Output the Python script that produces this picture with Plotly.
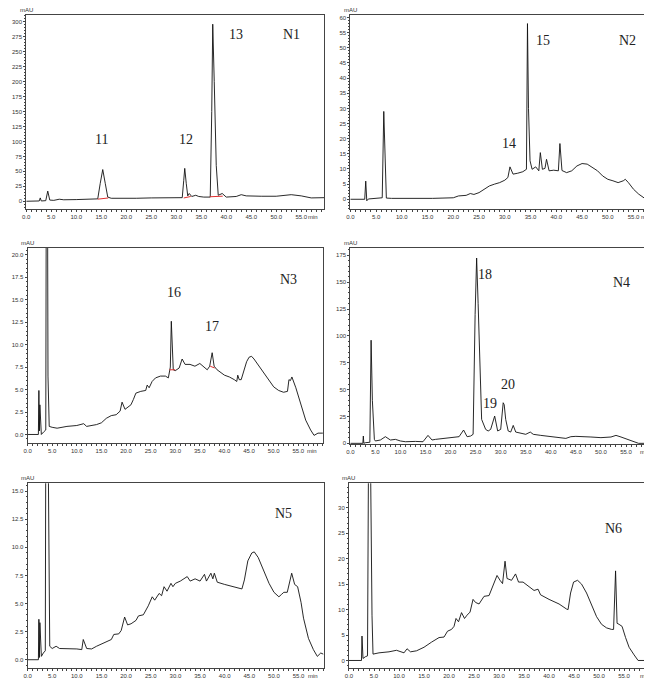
import plotly.graph_objects as go

# ---- N1 ----
n1_time = [0, 2.6, 2.8, 3.0, 3.9, 4.3, 4.7, 5.5, 6.6, 7.5, 10, 12, 14.0, 14.3, 14.8, 15.3, 15.8, 16.3, 17,
           20, 22, 25, 28, 30, 31.2, 31.5, 31.7, 32.0, 32.3, 32.6, 33.1, 33.9, 34.5, 35.5, 36.8, 37.1, 37.3,
           37.6, 38.0, 38.4, 39.2, 40, 42, 43, 44, 47, 50, 53, 55, 57, 59.6]
n1_abs = [0, 0.5, 5.6, 0.5, 1, 17, 2, 1.5, 3.4, 2.5, 2.8, 3.2, 3.4, 4, 30, 53, 30, 7, 5,
          4.5, 5, 5.6, 6, 6, 6, 35, 55, 30, 9, 13, 8, 10, 8, 7, 7, 150, 296,
          200, 60, 10, 13, 7, 8, 11, 9, 8.4, 8.4, 11, 9, 5.6, 6]
n1_base_time = [14.3, 16.4, None, 31.5, 32.9, None, 36.7, 39.3]
n1_base_abs = [3.5, 5.5, None, 5.5, 8, None, 7.5, 8.5]

# ---- N2 ----
n2_time = [0, 2.8, 3.0, 3.2, 3.5, 6.2, 6.5, 6.8, 7.0, 8, 12, 16, 18, 20, 21, 22.5, 23.3, 24, 25, 26, 27, 28, 29,
           30, 30.6, 31.0, 31.6, 32.5, 33.5, 34.2, 34.4, 34.6, 34.9, 35.3, 36, 36.6, 36.9, 37.3, 37.8, 38.1,
           38.6, 39.5, 40.4, 40.7, 41.1, 42, 43, 44, 45, 46, 47, 48, 49, 50, 51, 52, 53, 53.4, 54, 55, 56, 57,
           57.5, 58.5, 59.5]
n2_abs = [0, 0, 6, -0.5, 0.1, 0.5, 29, 5, 0.4, 0.3, 0.2, 0.3, 0.4, 0.5, 1.1, 1.3, 1.9, 1.6, 2.2, 3.3, 4.4, 5, 5.5,
          6.3, 7.2, 10.7, 8.3, 8.6, 9.1, 9.9, 58, 30, 12.7, 9.9, 10.7, 9.4, 15.4, 9.9, 10.2, 13.2,
          9.4, 9.6, 9.4, 18.4, 9.5, 8.8, 9.4, 11, 11.8, 11.6, 10.5, 9.4, 7.7, 6.6, 6.1, 5.5, 6.1, 6.6, 5.5, 3.3, 1.7, 0.3,
          -0.1, 0.6, 0.6]

# ---- N3 ----
n3_time = [0, 2.2, 2.3, 2.4, 2.5, 2.8, 3.3, 3.7, 3.85, 4.0, 4.15, 4.4, 5, 6, 7, 8, 10, 11, 11.4, 12, 13, 14, 15,
           16, 17, 18, 18.8, 19.2, 19.8, 20.3, 21, 21.5, 22, 23, 24, 24.3, 24.7, 25.3, 26, 27, 28, 28.6, 29.0,
           29.2, 29.4, 29.6, 30, 30.8, 31.4, 32, 33, 34, 35, 35.6, 36.5, 37, 37.5, 37.9, 38.5, 40, 41, 42,
           42.5, 42.7, 43, 43.4, 44, 44.5, 45, 45.5, 46, 47, 48, 49, 50, 51, 52, 52.8, 53.1, 53.4, 53.7,
           54.5, 55.5, 56.5, 57.5, 58.2, 59, 60]
n3_abs = [0, 0, 4.9, 0.4, 3.3, 0, 0.3, 0.5, 40, 40, 6.5, 0.9, 0.8, 0.7, 0.8, 0.9, 1.0, 1.1, 1.2, 0.9, 1.0, 1.1, 1.3,
          1.8, 2.1, 2.2, 2.6, 3.6, 2.8, 3.0, 3.3, 3.9, 4.6, 4.8, 4.9, 5.5, 5.2, 5.9, 6.3, 6.5, 6.5, 6.3, 7.5,
          12.6, 9, 7.2, 7.1, 7.4, 8.4, 7.8, 7.8, 7.6, 7.9, 7.6, 7.2, 7.6, 9.1, 7.6, 7.2, 6.6, 6.4, 6.1,
          5.9, 6.6, 6.1, 6.1, 7.2, 8.1, 8.6, 8.7, 8.4, 7.6, 6.8, 6.1, 5.3, 4.9, 4.7, 4.8, 6.1, 6.0, 6.4,
          5.2, 3.5, 1.6, 0.5, -0.1, 0.15, 0.15]
n3_base_time = [28.8, 30.0, None, 37.1, 38.0]
n3_base_abs = [7.2, 7.2, None, 7.6, 7.4]

# ---- N4 ----
n4_time = [0, 2.5, 2.6, 2.7, 3, 3.9, 4.15, 4.4, 4.8, 5, 6, 7.0, 8, 9, 10, 11, 13, 14.5, 15.5, 16.3, 17, 19, 21,
           21.7, 22.6, 23.3, 24, 24.5, 24.9, 25.2, 25.5, 25.8, 26.2, 27, 27.5, 28, 28.8, 29.4, 30, 30.5, 30.7,
           31, 31.5, 32, 32.5, 33, 34, 35, 35.9, 36.5, 38, 40, 42, 43, 44, 45, 48, 50, 52, 53, 54, 56, 57.5, 61]
n4_abs = [0, 0, 6.8, 0, 0.6, 1, 96, 40, 3.7, 2.2, 3.1, 6.2, 3.1, 3.7, 2.2, 1.5, 1.8, 1.5, 7.4, 3.1, 3.7, 4.6, 5.6,
          6.2, 12.4, 6.2, 6.8, 8.4, 120, 172.5, 130, 71.8, 22.3, 13, 11.5, 13, 25.4, 11.5, 13, 37.8, 36,
          22.3, 11.5, 10.5, 16.7, 10.5, 9.3, 8.4, 10.5, 8.4, 7.4, 6.2, 5.6, 4.6, 6.2, 6.5, 5.9, 5.3, 5.9, 7.4, 5.9, 2.2, 0, 0]

# ---- N5 ----
n5_time = [0, 2.2, 2.3, 2.4, 2.5, 2.8, 3.2, 3.6, 3.8, 4.0, 4.25, 4.5, 5, 5.8, 6.5, 8, 10, 11, 11.3, 12, 13, 14, 15,
           16, 17, 17.5, 18.5, 19, 19.7, 20.3, 21, 22, 22.5, 23.5, 24.5, 25.3, 25.8, 26.7, 27.2, 27.7, 28.3,
           29.1, 29.5, 30, 31, 32.4, 33, 34, 35, 35.9, 36.3, 37.2, 37.6, 37.9, 38.5, 40, 42, 43.5, 44, 44.7,
           45.5, 46, 46.8, 48, 49, 50, 51, 51.5, 52, 52.7, 53.6, 54.2, 54.8, 55.5, 56, 57, 58, 58.8, 59.5, 60]
n5_abs = [0, 0, 3.6, 0.2, 3.3, 0.3, 0.6, 0.8, 40, 40, 10.5, 1.2, 1.0, 1.2, 1.0, 1.0, 0.96, 0.9, 1.8, 1.0, 0.96, 1.2, 1.4,
          1.6, 1.8, 2.25, 2.3, 2.6, 3.8, 3.1, 3.2, 3.5, 3.9, 4.0, 4.8, 5.6, 5.3, 5.9, 5.7, 6.5, 6.1,
          6.8, 6.5, 6.8, 7.0, 7.4, 7.0, 7.2, 7.0, 7.6, 7.0, 7.7, 7.2, 7.7, 6.9, 6.7, 6.5, 6.3, 7.1, 8.8,
          9.5, 9.6, 9.1, 7.8, 6.8, 6.0, 5.6, 5.8, 6.0, 6.0, 7.7, 6.7, 6.5, 5.1, 3.7, 1.9, 0.9, 0.3, 0.6, 0.5]

# ---- N6 ----
n6_time = [0, 2.5, 2.6, 2.8, 3.3, 3.7, 3.95, 4.2, 4.6, 4.8, 6, 8, 9.5, 10.5, 11, 11.6, 12.3, 13.5, 15, 16.5, 18, 19,
           19.7, 20.5, 21, 21.4, 21.9, 22.5, 23.1, 23.6, 24.2, 24.8, 25.3, 26, 27, 28, 29.6, 30.2, 30.7, 31.2,
           31.6, 32.5, 33.3, 33.9, 34.8, 36, 37, 37.8, 38.3, 40, 42, 43.5, 43.8, 44.3, 44.9, 45.7, 46.5, 47.5,
           48.5, 49.5, 50.5, 51.5, 52.5, 52.9, 53.3, 53.6, 54, 54.6, 55.3, 56, 57, 57.8, 61.4]
n6_abs = [0, 0, 4.8, 0.4, 0.75, 0.9, 50, 50, 8.9, 1.25, 1.5, 1.7, 2.0, 1.7, 1.5, 2.3, 1.7, 1.9, 2.6, 3.6, 4.5, 4.6,
          5.75, 6.1, 6.7, 8.25, 7.6, 9.4, 8.25, 8.9, 9.5, 12, 11.4, 11.1, 12.6, 12.75, 16.7, 15.75, 15.1, 19.5,
          16.1, 15.75, 17, 15.4, 15.4, 14.5, 13.75, 14, 12.9, 12, 11.1, 10.1, 10.0, 13.25, 15.4, 15.75, 15, 13.25,
          10.75, 8.6, 7.1, 6.4, 6.1, 6.1, 17.6, 7.3, 7.1, 6.7, 4.5, 2.6, 1.1, 0, 0]

# peak labels: (panel, time, absorbance, text)
peak_labels = [
    (1, 15.0, 103, "11"), (1, 32.0, 104, "12"), (1, 42.0, 278, "13"), (1, 53.0, 278, "N1"),
    (2, 30.8, 18.3, "14"), (2, 37.5, 52.5, "15"), (2, 53.8, 52.5, "N2"),
    (3, 29.8, 15.8, "16"), (3, 37.5, 12.0, "17"), (3, 53.0, 17.3, "N3"),
    (4, 26.8, 157, "18"), (4, 27.9, 37, "19"), (4, 31.5, 55, "20"), (4, 54.0, 150, "N4"),
    (5, 52.0, 13.0, "N5"),
    (6, 52.8, 26.0, "N6"),
]

panels = [
    dict(t=n1_time, a=n1_abs, xd=[0.028, 0.485], yd=[0.704, 0.990], xr=[0, 59.6], yr=[-13.4, 311.7],
         yt=list(range(0, 301, 25)), yfmt="{:.0f}", ymin=5),
    dict(t=n2_time, a=n2_abs, xd=[0.525, 0.995], yd=[0.704, 0.990], xr=[0, 59.5], yr=[-3.3, 60.9],
         yt=list(range(0, 61, 5)), yfmt="{:.0f}", ymin=1),
    dict(t=n3_time, a=n3_abs, xd=[0.030, 0.483], yd=[0.360, 0.647], xr=[0, 60], yr=[-0.97, 20.75],
         yt=[i * 2.5 for i in range(9)], yfmt="{:.1f}", ymin=0.5),
    dict(t=n4_time, a=n4_abs, xd=[0.525, 0.994], yd=[0.359, 0.647], xr=[0, 61], yr=[-0.5, 181.8],
         yt=list(range(0, 176, 25)), yfmt="{:.0f}", ymin=5),
    dict(t=n5_time, a=n5_abs, xd=[0.030, 0.485], yd=[0.030, 0.301], xr=[0, 60.2], yr=[-0.7, 15.7],
         yt=[i * 2.5 for i in range(7)], yfmt="{:.1f}", ymin=0.5),
    dict(t=n6_time, a=n6_abs, xd=[0.523, 0.994], yd=[0.030, 0.301], xr=[0, 61.4], yr=[-1.4, 34.8],
         yt=list(range(0, 31, 5)), yfmt="{:.0f}", ymin=1),
]

fig = go.Figure()
axis_col = "#444444"
xt = list(range(0, 56, 5))
annotations = []

for i, p in enumerate(panels, start=1):
    xa = "x" if i == 1 else "x%d" % i
    ya = "y" if i == 1 else "y%d" % i
    fig.add_trace(go.Scatter(x=p["t"], y=p["a"], mode="lines", xaxis=xa, yaxis=ya,
                             line=dict(color="#111111", width=0.9), showlegend=False))
    sfx = "" if i == 1 else str(i)
    common = dict(showline=True, mirror=True, linecolor=axis_col, linewidth=1, showgrid=False,
                  zeroline=False, ticks="outside", ticklen=2, tickcolor=axis_col, automargin=False,
                  tickfont=dict(family="Liberation Sans", size=6, color="#333333"))
    fig.update_layout(**{
        "xaxis" + sfx: dict(domain=p["xd"], range=p["xr"], anchor=ya, tickvals=xt,
                            ticktext=["%.1f" % v for v in xt],
                            minor=dict(dtick=1, ticks="outside", ticklen=2, tickcolor=axis_col),
                            **common),
        "yaxis" + sfx: dict(domain=p["yd"], range=p["yr"], anchor=xa, tickvals=p["yt"],
                            ticktext=[p["yfmt"].format(v) for v in p["yt"]],
                            minor=dict(dtick=p["ymin"], ticks="outside", ticklen=1, tickcolor=axis_col),
                            **common),
    })
    annotations.append(dict(xref=xa + " domain", yref=ya + " domain", x=0.0, y=1.0, text="mAU",
                            showarrow=False, xanchor="center", yanchor="bottom",
                            font=dict(family="Liberation Sans", size=6, color="#333333")))
    annotations.append(dict(xref=xa + " domain", yref=ya + " domain", x=1.0, y=0, yshift=-3, xshift=-4,
                            text="min", showarrow=False, xanchor="right", yanchor="top",
                            font=dict(family="Liberation Sans", size=6, color="#333333")))

fig.add_trace(go.Scatter(x=n1_base_time, y=n1_base_abs, mode="lines", xaxis="x", yaxis="y",
                         line=dict(color="#e03030", width=1), showlegend=False))
fig.add_trace(go.Scatter(x=n3_base_time, y=n3_base_abs, mode="lines", xaxis="x3", yaxis="y3",
                         line=dict(color="#e03030", width=1), showlegend=False))

for panel, t, a, text in peak_labels:
    xa = "x" if panel == 1 else "x%d" % panel
    ya = "y" if panel == 1 else "y%d" % panel
    annotations.append(dict(xref=xa, yref=ya, x=t, y=a, text=text, showarrow=False,
                            font=dict(family="Liberation Serif", size=14, color="#222222")))

fig.update_layout(width=652, height=680, margin=dict(l=0, r=0, t=0, b=0),
                  plot_bgcolor="white", paper_bgcolor="white", annotations=annotations)

fig.write_html("out.html")
